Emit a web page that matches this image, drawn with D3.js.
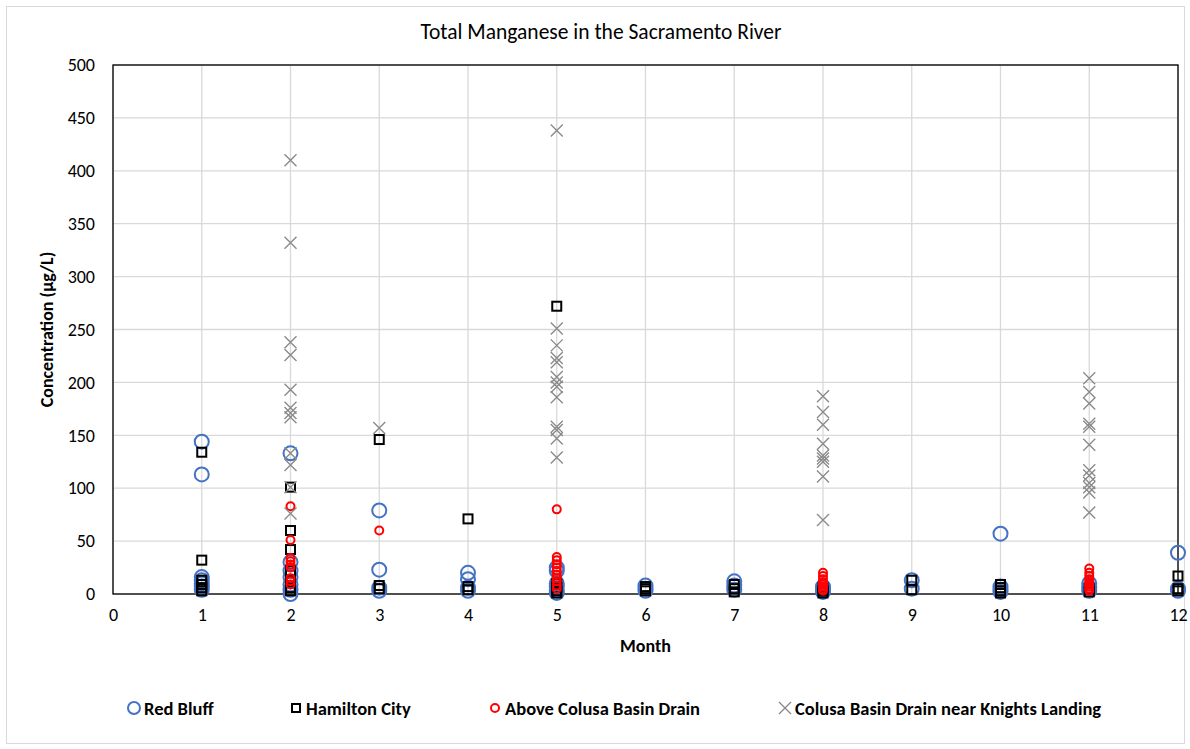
<!DOCTYPE html>
<html>
<head>
<meta charset="utf-8">
<script src="https://cdn.jsdelivr.net/npm/d3@7"></script>
<style>
  body { margin: 0; background: #fff; }
  svg { font-family: Carlito, Lato, "Open Sans", sans-serif; }
</style>
</head>
<body>
<svg></svg>
<script>
// [month, concentration µg/L]
const redBluff = [
  [1, 144], [1, 113], [1, 16], [1, 13], [1, 10], [1, 7], [1, 4],
  [2, 133], [2, 30], [2, 22], [2, 16], [2, 9], [2, 4], [2, 0],
  [3, 79], [3, 23], [3, 6], [3, 3],
  [4, 20], [4, 14], [4, 6], [4, 3],
  [5, 25], [5, 22], [5, 10], [5, 7], [5, 3], [5, 1],
  [6, 8], [6, 5], [6, 3],
  [7, 12], [7, 8], [7, 4],
  [8, 7], [8, 4], [8, 2],
  [9, 13], [9, 5],
  [10, 57], [10, 7], [10, 4], [10, 2],
  [11, 10], [11, 6], [11, 3],
  [12, 39], [12, 5], [12, 3]
];
const hamiltonCity = [
  [1, 134], [1, 32], [1, 13], [1, 9], [1, 6], [1, 3],
  [2, 101], [2, 60], [2, 42], [2, 22], [2, 12], [2, 6], [2, 3],
  [3, 146], [3, 8], [3, 5],
  [4, 71], [4, 7], [4, 4],
  [5, 272], [5, 10], [5, 6], [5, 3], [5, 1],
  [6, 7], [6, 5], [6, 3],
  [7, 9], [7, 5], [7, 2],
  [8, 6], [8, 3], [8, 1],
  [9, 13], [9, 4],
  [10, 9], [10, 6], [10, 3], [10, 1],
  [11, 5], [11, 2],
  [12, 17], [12, 5], [12, 3]
];
const aboveColusa = [
  [2, 83], [2, 51], [2, 34], [2, 31], [2, 28], [2, 25], [2, 15], [2, 12], [2, 9],
  [3, 60],
  [5, 80], [5, 35], [5, 32], [5, 28], [5, 25], [5, 22], [5, 18], [5, 15], [5, 12], [5, 8], [5, 5],
  [8, 20], [8, 17], [8, 14], [8, 11], [8, 9], [8, 7], [8, 5], [8, 3],
  [11, 24], [11, 20], [11, 17], [11, 14], [11, 11], [11, 9], [11, 7], [11, 5], [11, 3]
];
const knightsLanding = [
  [2, 410], [2, 332], [2, 238], [2, 226], [2, 193], [2, 176], [2, 171], [2, 167],
  [2, 133], [2, 122], [2, 101], [2, 76],
  [3, 157],
  [5, 438], [5, 251], [5, 235], [5, 223], [5, 219], [5, 205], [5, 200], [5, 196],
  [5, 186], [5, 158], [5, 155], [5, 147], [5, 129],
  [8, 187], [8, 172], [8, 160], [8, 142], [8, 131], [8, 128], [8, 125], [8, 111], [8, 70],
  [11, 204], [11, 191], [11, 180], [11, 161], [11, 158], [11, 141], [11, 117], [11, 112],
  [11, 105], [11, 101], [11, 96], [11, 77]
];
const yTicks = d3.range(0, 501, 50);
const xTicks = d3.range(0, 13, 1);

const size = {w: 1190, h: 749};
const plot = {l: 113, r: 1178, t: 65, b: 594};

const svg = d3.select('svg')
    .attr('width', size.w)
    .attr('height', size.h);

// chart border
svg.append('rect')
    .attr('x', 6.5).attr('y', 6.5)
    .attr('width', size.w - 12).attr('height', size.h - 12)
    .attr('fill', '#fff')
    .attr('stroke', '#d9d9d9');

const x = d3.scaleLinear().domain([0, 12]).range([plot.l, plot.r]);
const y = d3.scaleLinear().domain([0, 500]).range([plot.b, plot.t]);

// gridlines
svg.append('g')
    .selectAll('line')
    .data(yTicks)
    .join('line')
    .attr('x1', plot.l).attr('x2', plot.r)
    .attr('y1', d => y(d)).attr('y2', d => y(d))
    .attr('stroke', '#d9d9d9').attr('stroke-width', 1.3);
svg.append('g')
    .selectAll('line')
    .data(xTicks)
    .join('line')
    .attr('x1', d => x(d)).attr('x2', d => x(d))
    .attr('y1', plot.t).attr('y2', plot.b)
    .attr('stroke', '#d9d9d9').attr('stroke-width', 1.3);

// tick labels
const yAxis = svg.append('g')
    .attr('transform', 'translate(' + plot.l + ',0)')
    .call(d3.axisLeft(y).tickValues(yTicks).tickSize(0).tickPadding(18));
yAxis.select('.domain').remove();
yAxis.selectAll('text')
    .attr('font-family', 'Carlito, Lato, sans-serif')
    .attr('font-size', 18).attr('fill', '#000');

const xAxis = svg.append('g')
    .attr('transform', 'translate(0,' + plot.b + ')')
    .call(d3.axisBottom(x).tickValues(xTicks).tickSize(0).tickPadding(14));
xAxis.select('.domain').remove();
xAxis.selectAll('text')
    .attr('font-family', 'Carlito, Lato, sans-serif')
    .attr('font-size', 18).attr('fill', '#000');

// plot area outline
svg.append('rect')
    .attr('x', plot.l).attr('y', plot.t)
    .attr('width', plot.r - plot.l).attr('height', plot.b - plot.t)
    .attr('fill', 'none')
    .attr('stroke', '#000').attr('stroke-width', 1.3);

// markers
function drawCircles (data, r, color, sw) {
    svg.append('g')
        .selectAll('circle')
        .data(data)
        .join('circle')
        .attr('cx', d => x(d[0]))
        .attr('cy', d => y(d[1]))
        .attr('r', r)
        .attr('fill', 'none')
        .attr('stroke', color)
        .attr('stroke-width', sw);
}

drawCircles(redBluff, 7, '#4472c4', 2);

svg.append('g')
    .selectAll('rect')
    .data(hamiltonCity)
    .join('rect')
    .attr('x', d => x(d[0]) - 4.5)
    .attr('y', d => y(d[1]) - 4.5)
    .attr('width', 9).attr('height', 9)
    .attr('fill', 'none')
    .attr('stroke', '#000')
    .attr('stroke-width', 2);

drawCircles(aboveColusa, 4, '#ff0000', 2);

svg.append('g')
    .selectAll('path')
    .data(knightsLanding)
    .join('path')
    .attr('transform', d => 'translate(' + x(d[0]) + ',' + y(d[1]) + ')')
    .attr('d', 'M-6,-6L6,6M-6,6L6,-6')
    .attr('stroke', '#8a8a8a')
    .attr('stroke-width', 1.4)
    .attr('fill', 'none');

// title and axis titles
svg.append('text')
    .attr('x', 601).attr('y', 39)
    .attr('text-anchor', 'middle')
    .attr('font-size', 21.5)
    .text('Total Manganese in the Sacramento River');

svg.append('text')
    .attr('x', (plot.l + plot.r) / 2).attr('y', 652)
    .attr('text-anchor', 'middle')
    .attr('font-size', 18).attr('font-weight', 'bold')
    .text('Month');

svg.append('text')
    .attr('transform', 'translate(53,' + ((plot.t + plot.b) / 2) + ') rotate(-90)')
    .attr('text-anchor', 'middle')
    .attr('font-size', 18).attr('font-weight', 'bold')
    .text('Concentration (µg/L)');

// legend
const legend = [
    {name: 'Red Bluff', x: 134, kind: 'bigCircle'},
    {name: 'Hamilton City', x: 296, kind: 'square'},
    {name: 'Above Colusa Basin Drain', x: 495, kind: 'smallCircle'},
    {name: 'Colusa Basin Drain near Knights Landing', x: 785, kind: 'cross'}
];
const ly = 708;
legend.forEach(function (d) {
    let g = svg.append('g').attr('transform', 'translate(' + d.x + ',' + ly + ')');
    if (d.kind === 'bigCircle') {
        g.append('circle').attr('r', 6).attr('fill', 'none')
            .attr('stroke', '#4472c4').attr('stroke-width', 2);
    } else if (d.kind === 'square') {
        g.append('rect').attr('x', -4).attr('y', -4).attr('width', 8).attr('height', 8)
            .attr('fill', 'none').attr('stroke', '#000').attr('stroke-width', 2);
    } else if (d.kind === 'smallCircle') {
        g.append('circle').attr('r', 4).attr('fill', 'none')
            .attr('stroke', '#ff0000').attr('stroke-width', 2);
    } else {
        g.append('path').attr('d', 'M-6,-6L6,6M-6,6L6,-6')
            .attr('stroke', '#8a8a8a').attr('stroke-width', 1.4);
    }
    g.append('text')
        .attr('x', 10).attr('y', 6.5)
        .attr('font-size', 18.5).attr('font-weight', 'bold')
        .text(d.name);
});
</script>
</body>
</html>
